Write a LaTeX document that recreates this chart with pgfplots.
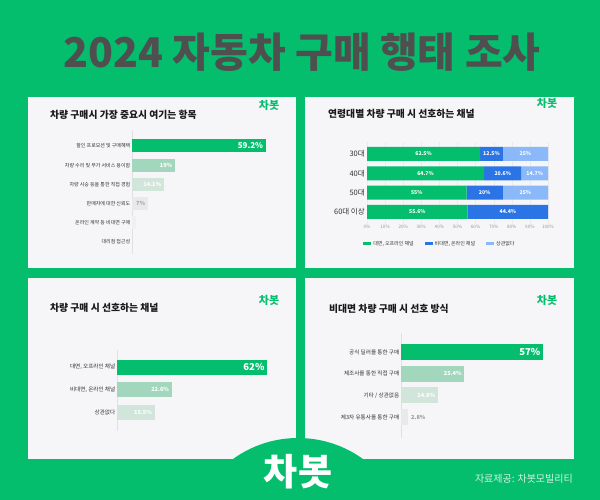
\documentclass[border=0pt]{standalone}
\usepackage{pgfplots}
\pgfplotsset{compat=1.18}
\usepackage{fontspec}
\setmainfont{Noto Sans CJK KR}
\newfontfamily\blackfont{Noto Sans CJK KR Black}
\definecolor{cgreen}{RGB}{4,190,110}
\definecolor{pbg}{RGB}{246,246,248}
\definecolor{tgray}{RGB}{79,79,79}
\definecolor{g2}{RGB}{162,214,189}
\definecolor{g3}{RGB}{210,229,218}
\definecolor{g4}{RGB}{233,233,233}
\definecolor{g5}{RGB}{240,240,240}
\definecolor{cblue}{RGB}{43,116,229}
\definecolor{lblue}{RGB}{139,184,248}
\definecolor{lab}{RGB}{50,50,50}
\definecolor{mint}{RGB}{212,242,226}
\pgfplotsset{
  hbar/.style={scale only axis, anchor=north west, xbar, y dir=reverse,
    axis x line=none, axis y line*=left,
    axis line style={-, draw=black!12, line width=0.7pt},
    major tick length=0pt, xmin=0, clip=false,
    yticklabel style={font=\fontsize{5}{6}\selectfont, text=lab, inner sep=1.5pt}},
  onebar/.style 2 args={xbar, bar shift=0pt, fill=#1, draw=none,
    nodes near coords, point meta=explicit symbolic,
    every node near coord/.append style={anchor=east, text=#2, inner sep=2.5pt}},
  small/.style={every node near coord/.append style={font=\bfseries\fontsize{5.6}{6}\selectfont}},
  big/.style={every node near coord/.append style={font=\bfseries\fontsize{9.5}{10}\selectfont}},
}
\begin{document}
\begin{tikzpicture}[x=1pt,y=1pt]
\useasboundingbox (0,0) rectangle (600,500);
\fill[cgreen] (0,0) rectangle (600,500);
% panels
\fill[pbg] (28,232) rectangle (296,403);
\fill[pbg] (305,232) rectangle (574,403);
\fill[pbg] (28,41) rectangle (296,222);
\fill[pbg] (305,41) rectangle (574,222);
\begin{scope}
\clip (0,0) rectangle (600,500);
\fill[cgreen] (298,-49) circle (111);
\end{scope}
% title
\node[inner sep=0, text=tgray, font=\blackfont\fontsize{41}{44}\selectfont] at (302,448) {2024 자동차 구매 행태 조사};
% panel titles
\node[anchor=west, inner sep=0, font=\bfseries\fontsize{9.8}{11}\selectfont, text=black!90] at (50,385) {차량 구매시 가장 중요시 여기는 항목};
\node[anchor=west, inner sep=0, font=\bfseries\fontsize{9.8}{11}\selectfont, text=black!90] at (328,386) {연령대별 차량 구매 시 선호하는 채널};
\node[anchor=west, inner sep=0, font=\bfseries\fontsize{9.8}{11}\selectfont, text=black!90] at (50,192) {차량 구매 시 선호하는 채널};
\node[anchor=west, inner sep=0, font=\bfseries\fontsize{9.8}{11}\selectfont, text=black!90] at (329,191) {비대면 차량 구매 시 선호 방식};
% panel logos
\foreach \p in {(269,395),(547,397),(269,200),(547,200)}
  \node[inner sep=0, font=\bfseries\fontsize{11}{12}\selectfont, text=cgreen] at \p {차봇};
% bottom logo and source
\node[inner sep=0, font=\bfseries\fontsize{37}{40}\selectfont, text=white] at (298,28) {차봇};
\node[anchor=east, inner sep=0, font=\fontsize{10}{11}\selectfont, text=mint] at (573,21) {자료제공: 차봇모빌리티};

% Panel 1
\begin{axis}[hbar, at={(132pt,369pt)}, width=139pt, height=123pt,
  xmax=61.5, ymin=-0.78, ymax=5.63, bar width=13pt,
  ytick={0,...,5},
  yticklabels={할인 프로모션 및 구매혜택, 차량 수리 및 부가 서비스 용이함, 차량 시승 등을 통한 직접 경험, 판매자에 대한 신뢰도, 온라인 계약 등 비대면 구매, 대리점 접근성}]
\addplot[onebar={cgreen}{white}, every node near coord/.append style={font=\bfseries\fontsize{8}{9}\selectfont}] coordinates {(59.2,0) [59.2\%]};
\addplot[onebar={g2}{white}, small] coordinates {(19,1) [19\%]};
\addplot[onebar={g3}{white}, small] coordinates {(14.1,2) [14.1\%]};
\addplot[onebar={g4}{black!35}, small] coordinates {(7,3) [7\%]};
\addplot[xbar, bar shift=0pt, fill=g5, draw=none] coordinates {(1.8,4)};
\end{axis}

% Panel 2 (stacked)
\begin{axis}[scale only axis, anchor=north west, at={(367pt,357.6pt)}, width=181pt, height=81.2pt,
  xbar stacked, bar width=14pt, y dir=reverse, xmin=0, xmax=100, ymin=-0.6, ymax=3.6,
  ytick={0,1,2,3}, yticklabels={30대,40대,50대,60대 이상},
  xtick={0,10,...,100}, xticklabels={0\%,10\%,20\%,30\%,40\%,50\%,60\%,70\%,80\%,90\%,100\%},
  axis line style={draw=none}, major tick length=0pt,
  xmajorgrids, grid style={black!8, line width=0.4pt},
  yticklabel style={font=\fontsize{7.5}{8}\selectfont, text=lab, inner sep=2pt},
  xticklabel style={font=\fontsize{4.6}{5}\selectfont, text=black!40, inner sep=1pt},
  legend style={at={(0.403,-0.25)}, anchor=center, legend columns=3, draw=none, fill=none,
    font=\fontsize{5}{6}\selectfont, text=lab, inner sep=0pt,
    /tikz/every even column/.append style={column sep=9pt}},
  legend image code/.code={\draw[#1, draw=none] (0pt,-1.6pt) rectangle (8pt,1.6pt);}]
\addplot[fill=cgreen, draw=none] coordinates {(62.5,0) (64.7,1) (55,2) (55.6,3)};
\addlegendentry{대면, 오프라인 채널}
\addplot[fill=cblue, draw=none] coordinates {(12.5,0) (20.6,1) (20,2) (44.4,3)};
\addlegendentry{비대면, 온라인 채널}
\addplot[fill=lblue, draw=none] coordinates {(25,0) (14.7,1) (25,2) (0,3)};
\addlegendentry{상관없다}
\end{axis}
\begin{axis}[scale only axis, anchor=north west, at={(367pt,357.6pt)}, width=181pt, height=81.2pt,
  y dir=reverse, xmin=0, xmax=100, ymin=-0.6, ymax=3.6, axis lines=none, clip=false]
\addplot[only marks, mark=none, nodes near coords, point meta=explicit symbolic,
  every node near coord/.append style={anchor=center, font=\bfseries\fontsize{5.2}{6}\selectfont, text=white}]
  coordinates {(31.25,0)[62.5\%] (68.75,0)[12.5\%] (87.5,0)[25\%]
               (32.35,1)[64.7\%] (75,1)[20.6\%] (92.65,1)[14.7\%]
               (27.5,2)[55\%] (65,2)[20\%] (87.5,2)[25\%]
               (27.8,3)[55.6\%] (77.8,3)[44.4\%]};
\end{axis}

% Panel 3
\begin{axis}[hbar, at={(117pt,150pt)}, width=153pt, height=81pt,
  xmax=63.2, ymin=-0.756, ymax=2.84, bar width=15pt,
  ytick={0,1,2}, yticklabels={{대면, 오프라인 채널},{비대면, 온라인 채널},상관없다},
  yticklabel style={font=\fontsize{5.6}{6}\selectfont}]
\addplot[onebar={cgreen}{white}, big] coordinates {(62,0) [62\%]};
\addplot[onebar={g2}{white}, small] coordinates {(22.6,1) [22.6\%]};
\addplot[onebar={g3}{white}, small] coordinates {(15.5,2) [15.5\%]};
\end{axis}

% Panel 4
\begin{axis}[hbar, at={(401pt,167pt)}, width=150pt, height=105pt,
  xmax=60.2, ymin=-0.876, ymax=3.97, bar width=16pt,
  ytick={0,1,2,3}, yticklabels={공식 딜러를 통한 구매, 제조사를 통한 직접 구매, 기타 / 상관없음, 제3자 유통사를 통한 구매},
  yticklabel style={font=\fontsize{5.6}{6}\selectfont}]
\addplot[onebar={cgreen}{white}, big] coordinates {(57,0) [57\%]};
\addplot[onebar={g2}{white}, small] coordinates {(25.4,1) [25.4\%]};
\addplot[onebar={g3}{white}, small] coordinates {(14.8,2) [14.8\%]};
\addplot[onebar={g4}{black!40}, small, every node near coord/.append style={anchor=west, inner sep=3pt}] coordinates {(2.8,3) [2.8\%]};
\end{axis}
\end{tikzpicture}
\end{document}
